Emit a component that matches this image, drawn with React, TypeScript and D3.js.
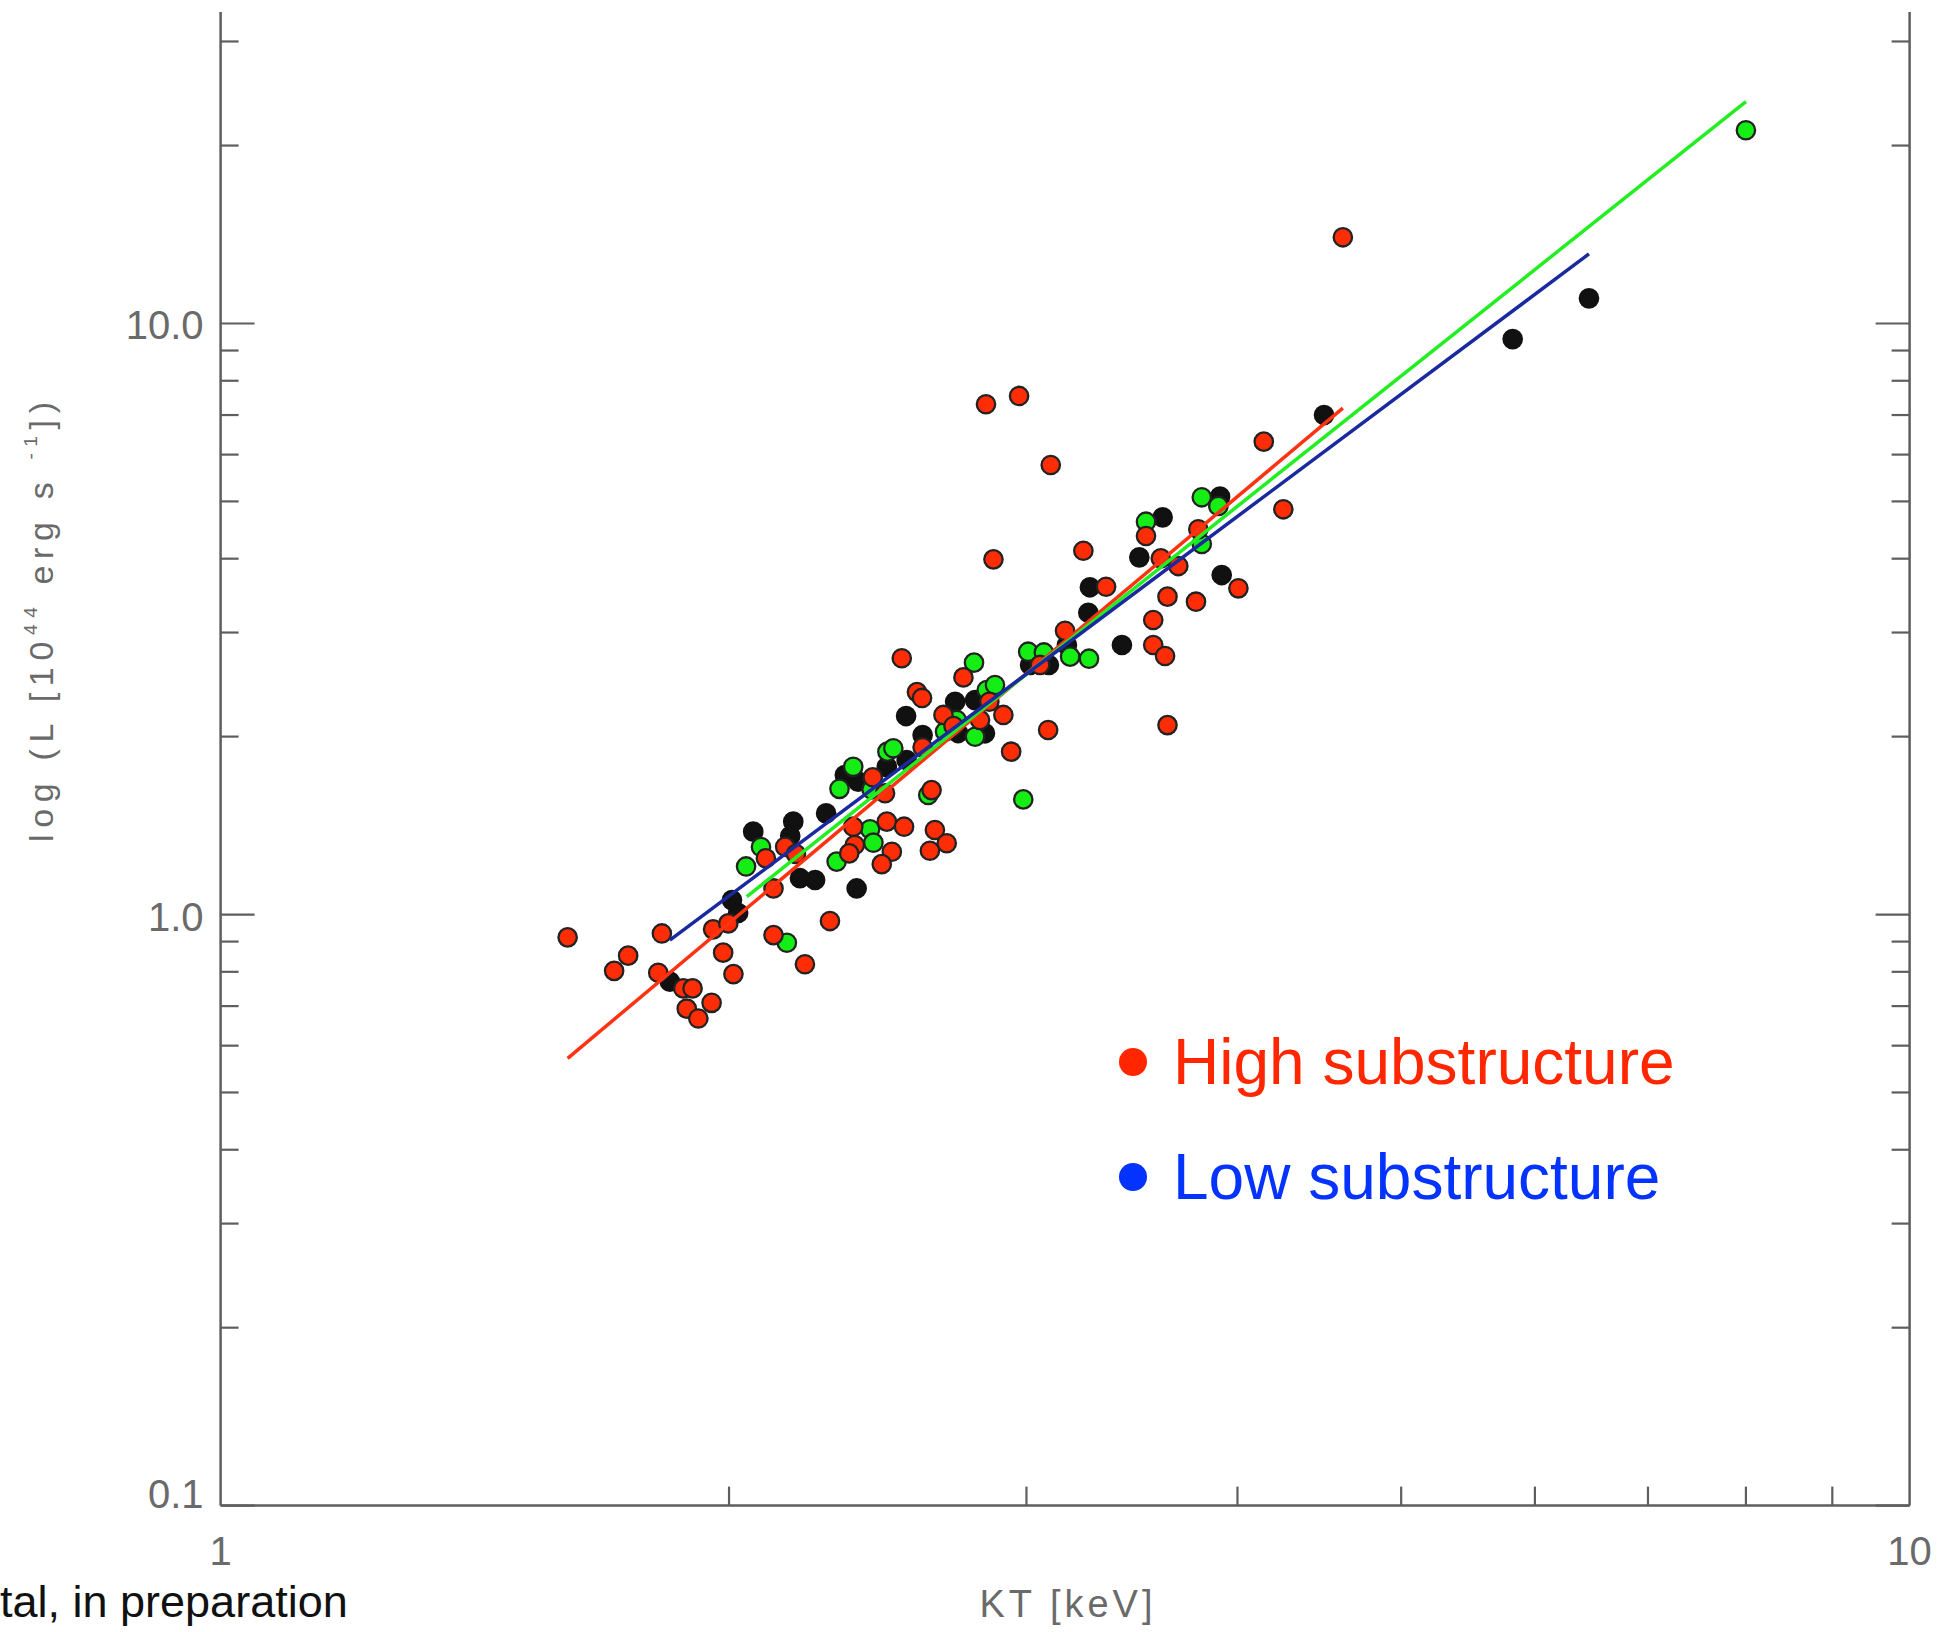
import React from "react";
import * as d3 from "d3";

// ---- data (kT [keV], L [10^44 erg/s]) ----
const redPoints: [number, number][] = [
  [1.605, 0.915], [1.825, 0.929], [1.743, 0.852], [1.71, 0.803], [1.816, 0.797],
  [1.879, 0.75], [1.903, 0.75], [1.888, 0.693], [1.918, 0.667], [1.953, 0.709],
  [1.984, 0.862], [2.012, 0.793], [1.957, 0.944], [1.998, 0.966], [2.125, 1.107],
  [2.125, 0.923], [2.218, 0.824], [2.295, 0.975], [2.103, 1.245], [2.159, 1.302],
  [2.191, 1.266], [2.369, 1.408], [2.374, 1.311], [2.356, 1.269], [2.48, 1.436],
  [2.539, 1.408], [2.497, 1.277], [2.463, 1.217], [2.433, 1.707], [2.474, 1.604],
  [2.636, 1.624], [2.648, 1.39], [2.691, 1.32], [2.63, 1.282], [2.604, 1.919],
  [2.531, 2.714], [2.753, 2.519], [2.584, 2.379], [2.602, 2.325], [2.679, 2.176],
  [2.716, 2.084], [2.852, 2.291], [2.907, 2.176], [2.816, 2.134], [2.938, 1.886],
  [3.09, 2.052], [3.056, 2.644], [3.162, 3.021], [3.242, 4.126], [3.344, 3.586],
  [3.531, 4.37], [3.603, 4.005], [3.69, 3.887], [3.792, 4.486], [3.636, 3.45],
  [3.78, 3.383], [3.566, 3.15], [3.566, 2.858], [3.624, 2.738], [4.005, 3.564],
  [4.258, 4.849], [3.636, 2.092], [2.839, 7.3], [2.97, 7.54], [3.101, 5.762],
  [2.868, 3.99], [4.146, 6.31], [4.618, 13.99],
];

const blackPoints: [number, number][] = [
  [1.845, 0.77], [2.008, 1.058], [2.025, 1.006], [2.067, 1.381], [2.183, 1.436],
  [2.174, 1.358], [2.283, 1.483], [2.203, 1.152], [2.249, 1.144], [2.38, 1.107],
  [2.342, 1.722], [2.385, 1.678], [2.48, 1.778], [2.548, 1.826], [2.604, 2.012],
  [2.546, 2.167], [2.722, 2.291], [2.797, 2.306], [2.835, 2.026], [2.733, 2.028],
  [3.015, 2.644], [3.093, 2.644], [3.17, 2.858], [3.271, 3.578], [3.264, 3.24],
  [3.417, 2.858], [3.499, 4.021], [3.612, 4.699], [3.906, 5.093], [3.915, 3.753],
  [4.501, 7.0], [5.821, 9.41], [6.459, 11.03],
];

const greenPoints: [number, number][] = [
  [2.164, 0.896], [2.047, 1.206], [2.089, 1.301], [2.316, 1.229], [2.325, 1.632],
  [2.424, 1.394], [2.435, 1.323], [2.369, 1.778], [2.429, 1.628], [2.482, 1.886],
  [2.502, 1.911], [2.624, 1.593], [2.685, 2.039], [2.728, 2.134], [2.797, 1.999],
  [2.842, 2.398], [2.874, 2.445], [2.793, 2.668], [2.987, 1.566], [3.007, 2.784],
  [3.072, 2.776], [3.184, 2.731], [3.267, 2.709], [3.531, 4.62], [3.81, 5.081],
  [3.897, 4.911], [3.81, 4.236], [8.0, 21.23],
];

const redFit: [number, number][] = [[1.605, 0.571], [4.618, 7.19]];
const greenFit: [number, number][] = [[2.049, 1.072], [8.0, 23.73]];
const blueFit: [number, number][] = [[1.845, 0.905], [6.459, 13.11]];

const xDomain: [number, number] = [1, 10];
const yDomain: [number, number] = [0.1, 33.65];
const xMajorTicks = [1, 10];
const xMajorLabels = ["1", "10"];
const xMinorTicks = [2, 3, 4, 5, 6, 7, 8, 9];
const yMajorTicks = [0.1, 1, 10];
const yMajorLabels = ["0.1", "1.0", "10.0"];
const yMinorTicks = [0.2, 0.3, 0.4, 0.5, 0.6, 0.7, 0.8, 0.9, 2, 3, 4, 5, 6, 7, 8, 9, 20, 30];

const legendItems = [
  { label: "High substructure", color: "#ff2600" },
  { label: "Low substructure", color: "#0433ff" },
];

const FONT = "'Liberation Sans', Arial, Helvetica, sans-serif";

export default function App() {
  const W = 1943;
  const H = 1632;
  const left = 220.6;
  const right = 1909.6;
  const top = 12;
  const bottom = 1505.6;
  const axisColor = "#5e5e5e";
  const labelColor = "#6a6a6a";

  const x = d3.scaleLog().domain(xDomain).range([left, right]);
  const y = d3.scaleLog().domain(yDomain).range([bottom, top]);
  const line = d3
    .line<[number, number]>()
    .x((d) => x(d[0]))
    .y((d) => y(d[1]));

  const dot = (d: [number, number], i: number, fill: string, stroke: string) => (
    <circle key={i} cx={x(d[0])} cy={y(d[1])} r={9.2} fill={fill} stroke={stroke} strokeWidth={2.3} />
  );

  return (
    <svg
      width={W}
      height={H}
      viewBox={`0 0 ${W} ${H}`}
      style={{ position: "absolute", left: 0, top: 0, display: "block", background: "#fff" }}
    >
      <rect x={0} y={0} width={W} height={H} fill="#fff" />

      {/* axes */}
      <g stroke={axisColor} strokeWidth={2.5} fill="none">
        <line x1={left} y1={top} x2={left} y2={bottom} />
        <line x1={right} y1={top} x2={right} y2={bottom} />
        <line x1={left} y1={bottom} x2={right} y2={bottom} />
      </g>
      <g stroke={axisColor} strokeWidth={2.2}>
        {yMajorTicks.map((t, i) => (
          <g key={"yM" + i}>
            <line x1={left} x2={left + 34} y1={y(t)} y2={y(t)} />
            <line x1={right} x2={right - 34} y1={y(t)} y2={y(t)} />
          </g>
        ))}
        {yMinorTicks.map((t, i) => (
          <g key={"ym" + i}>
            <line x1={left} x2={left + 18} y1={y(t)} y2={y(t)} />
            <line x1={right} x2={right - 18} y1={y(t)} y2={y(t)} />
          </g>
        ))}
        {xMinorTicks.map((t, i) => (
          <line key={"xm" + i} x1={x(t)} x2={x(t)} y1={bottom} y2={bottom - 19} />
        ))}
      </g>

      {/* tick labels */}
      <g fontFamily={FONT} fontSize={40} fill={labelColor}>
        {yMajorTicks.map((t, i) => (
          <text key={"yl" + i} x={left - 17} y={y(t) + (i === 0 ? 2 : 16)} textAnchor="end">
            {yMajorLabels[i]}
          </text>
        ))}
        {xMajorTicks.map((t, i) => (
          <text key={"xl" + i} x={x(t)} y={1565} textAnchor="middle">
            {xMajorLabels[i]}
          </text>
        ))}
      </g>

      {/* axis titles */}
      <text
        x={1066}
        y={1617}
        fontFamily={FONT}
        fontSize={38}
        fill={labelColor}
        textAnchor="middle"
        textLength={173}
        lengthAdjust="spacing"
      >
        KT [keV]
      </text>
      <text
        transform="translate(53,622) rotate(-90)"
        fontFamily={FONT}
        fontSize={34}
        fill={labelColor}
        textAnchor="middle"
        textLength={440}
        lengthAdjust="spacing"
      >
        log (L [10
        <tspan fontSize={19} dy={-16}>44</tspan>
        <tspan dy={16}> erg s </tspan>
        <tspan fontSize={19} dy={-16}>-1</tspan>
        <tspan dy={16}>])</tspan>
      </text>

      {/* points */}
      <g>{blackPoints.map((d, i) => dot(d, i, "#111", "#111"))}</g>
      <g>{greenPoints.map((d, i) => dot(d, i, "#14ee14", "#222"))}</g>
      <g>{redPoints.map((d, i) => dot(d, i, "#ff2d05", "#222"))}</g>

      {/* fits */}
      <g fill="none" strokeWidth={3.5}>
        <path d={line(redFit) || ""} stroke="#ff3311" />
        <path d={line(greenFit) || ""} stroke="#22ee22" />
        <path d={line(blueFit) || ""} stroke="#1a2a9e" />
      </g>

      {/* legend */}
      <g fontFamily={FONT} fontSize={64}>
        {legendItems.map((it, i) => (
          <g key={"lg" + i}>
            <circle cx={1133} cy={1062 + i * 115} r={14} fill={it.color} />
            <text x={1173} y={1084 + i * 115} fill={it.color}>
              {it.label}
            </text>
          </g>
        ))}
      </g>

      {/* citation fragment */}
      <text x={0} y={1617} fontFamily={FONT} fontSize={45} fill="#111">
        tal, in preparation
      </text>
    </svg>
  );
}
